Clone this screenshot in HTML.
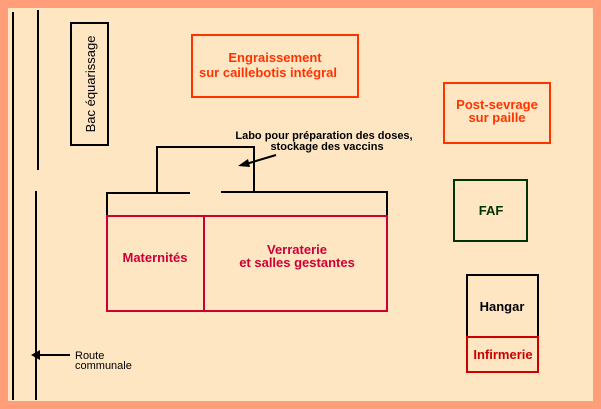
<!DOCTYPE html>
<html><head><meta charset="utf-8"><style>
html,body{margin:0;padding:0;background:#FF9E78;}
svg{display:block;}
text{font-family:"Liberation Sans",sans-serif;}
</style></head><body>
<svg width="601" height="409" viewBox="0 0 601 409" xmlns="http://www.w3.org/2000/svg">
<rect x="0" y="0" width="601" height="409" fill="#FF9E78"/>
<rect x="8" y="8" width="585" height="393" fill="#FFE6C3"/>
<g stroke="#000" stroke-width="2" fill="none">
<line x1="13" y1="12" x2="13" y2="400"/>
<line x1="38" y1="10" x2="38" y2="170"/>
<line x1="36" y1="191" x2="36" y2="400"/>
<rect x="71" y="23" width="37" height="122"/>
<polyline points="157,193 157,147 254,147 254,193"/>
<polyline points="107,216 107,193 190,193"/>
<polyline points="221,192 387,192 387,216"/>
<line x1="276" y1="155" x2="246" y2="164"/>
<line x1="70" y1="355" x2="40" y2="355"/>
</g>
<polygon points="238,166 248,159 250,167" fill="#000"/>
<polygon points="31,355 40,350 40,360" fill="#000"/>
<g fill="none" stroke-width="2">
<rect x="192" y="35" width="166" height="62" stroke="#FF3300"/>
<rect x="444" y="83" width="106" height="60" stroke="#FF3300"/>
<rect x="454" y="180" width="73" height="61" stroke="#003300"/>
<rect x="467" y="275" width="71" height="62" stroke="#000"/>
<rect x="467" y="337" width="71" height="35" stroke="#CC0000"/>
<rect x="107" y="216" width="280" height="95" stroke="#CC0033"/>
<line x1="204" y1="216" x2="204" y2="311" stroke="#CC0033"/>
</g>
<text transform="translate(95,84) rotate(-90)" text-anchor="middle" font-size="13" fill="#000">Bac équarissage</text>
<g font-weight="bold" text-anchor="middle">
<text x="275" y="62" font-size="13" fill="#FF3300">Engraissement</text>
<text x="268" y="77" font-size="13" fill="#FF3300">sur caillebotis intégral</text>
<text x="497" y="109" font-size="13" fill="#FF3300">Post-sevrage</text>
<text x="497" y="122" font-size="13" fill="#FF3300">sur paille</text>
<text x="491" y="215" font-size="13" fill="#003300">FAF</text>
<text x="502" y="311" font-size="13" fill="#000">Hangar</text>
<text x="503" y="359" font-size="13" fill="#CC0000">Infirmerie</text>
<text x="155" y="262" font-size="13" fill="#CC0033">Maternités</text>
<text x="297" y="254" font-size="13" fill="#CC0033">Verraterie</text>
<text x="297" y="267" font-size="13" fill="#CC0033">et salles gestantes</text>
<text x="324" y="139" font-size="11" fill="#000">Labo pour préparation des doses,</text>
<text x="327" y="150" font-size="11" fill="#000">stockage des vaccins</text>
</g>
<text x="75" y="359" font-size="11" fill="#000">Route</text>
<text x="75" y="369" font-size="11" fill="#000">communale</text>
</svg>
</body></html>
